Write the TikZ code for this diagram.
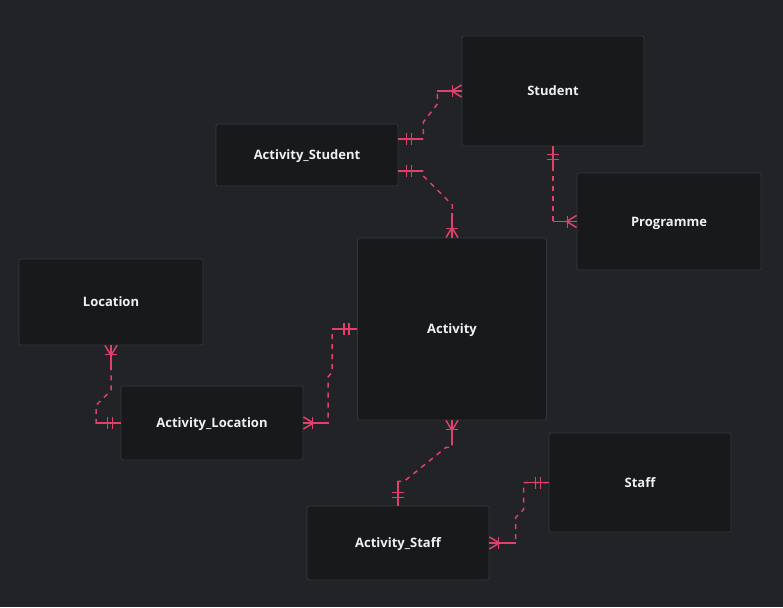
\documentclass[tikz,border=0pt]{standalone}
\usepackage{fontspec}
\setmainfont{Open Sans}
\usetikzlibrary{decorations.markings}
\definecolor{canvas}{HTML}{222327}
\definecolor{boxfill}{HTML}{18191B}
\definecolor{boxline}{HTML}{36373B}
\definecolor{relline}{HTML}{E0416B}
\tikzset{
  entity/.style={draw=boxline, fill=boxfill, rounded corners=2pt, line width=0.8pt,
    text=white!94!black, font=\bfseries\fontsize{13}{15}\selectfont, inner sep=0pt,
    text height=9pt, text depth=0pt},
  link/.style={draw=relline, line width=1.5pt, dash pattern=on 5pt off 5pt},
  stub/.style={draw=relline, line width=1.5pt},
  % two bars: exactly one
  onlyone/.style={postaction={decorate, decoration={markings,
    mark=at position 8pt with {\draw[stub] (0pt,-6pt) -- (0pt,6pt);},
    mark=at position 13pt with {\draw[stub] (0pt,-6pt) -- (0pt,6pt);}}}},
  % bar and crow's foot: one or many
  oneormany/.style={postaction={decorate, decoration={markings,
    mark=at position 0pt with {\draw[stub] (0pt,-6pt) -- (10pt,0pt) (0pt,6pt) -- (10pt,0pt);
      \draw[stub] (9pt,-6pt) -- (9pt,6pt);}}}},
}
\begin{document}
\begin{tikzpicture}[x=1pt, y=-1pt]
  \fill[canvas] (0,0) rectangle (783,607);

  % entities
  \node[entity, minimum width=182pt, minimum height=110pt] (student) at (553,91) {Student};
  \node[entity, minimum width=182pt, minimum height=62pt] (actstudent) at (307,155) {Activity\_Student};
  \node[entity, minimum width=184pt, minimum height=97pt] (programme) at (669,221.5) {Programme};
  \node[entity, minimum width=184pt, minimum height=86pt] (location) at (111,302) {Location};
  \node[entity, minimum width=189pt, minimum height=182pt] (activity) at (452,329) {Activity};
  \node[entity, minimum width=182pt, minimum height=74pt] (actloc) at (212,423) {Activity\_Location};
  \node[entity, minimum width=182pt, minimum height=99pt] (staff) at (640,482.5) {Staff};
  \node[entity, minimum width=182pt, minimum height=74pt] (actstaff) at (398,543) {Activity\_Staff};

  % Activity_Student -- Student
  \draw[link] ([yshift=16pt]actstudent.east) -- ++(25,0) -- ++(0,-17) -- ++(14,-18) |- (student.west);
  \draw[stub, onlyone] ([yshift=16pt]actstudent.east) -- ++(25,0);
  \draw[stub, oneormany] (student.west) -- ++(-25,0);

  % Activity_Student -- Activity
  \draw[link] ([yshift=-16pt]actstudent.east) -- ++(25,0) -- ++(0,5) -- ++(29,29) -- (activity.north);
  \draw[stub, onlyone] ([yshift=-16pt]actstudent.east) -- ++(25,0);
  \draw[stub, oneormany] (activity.north) -- ++(0,-25);

  % Student -- Programme
  \draw[link] (student.south) |- (programme.west);
  \draw[stub, onlyone] (student.south) -- ++(0,25);
  \draw[stub, oneormany] (programme.west) -- ++(-24,0);

  % Location -- Activity_Location
  \draw[link] (location.south) -- ++(0,45) -- ++(-15,15) |- (actloc.west);
  \draw[stub, oneormany] (location.south) -- ++(0,25);
  \draw[stub, onlyone] (actloc.west) -- ++(-25,0);

  % Activity -- Activity_Location
  \draw[link] (activity.west) -- ++(-25,0) -- ++(0,43) -- ++(-4,5) |- (actloc.east);
  \draw[stub, onlyone] (activity.west) -- ++(-25,0);
  \draw[stub, oneormany] (actloc.east) -- ++(26,0);

  % Activity -- Activity_Staff
  \draw[link] (activity.south) -- ++(0,27) -- ++(-6,0) -- ++(-42,34) -| (actstaff.north);
  \draw[stub, oneormany] (activity.south) -- ++(0,25);
  \draw[stub, onlyone] (actstaff.north) -- ++(0,-25);

  % Staff -- Activity_Staff
  \draw[link] (staff.west) -- ++(-25,0) -- ++(0,27) -- ++(-8,8) |- (actstaff.east);
  \draw[stub, onlyone] (staff.west) -- ++(-25,0);
  \draw[stub, oneormany] (actstaff.east) -- ++(27,0);
\end{tikzpicture}
\end{document}
